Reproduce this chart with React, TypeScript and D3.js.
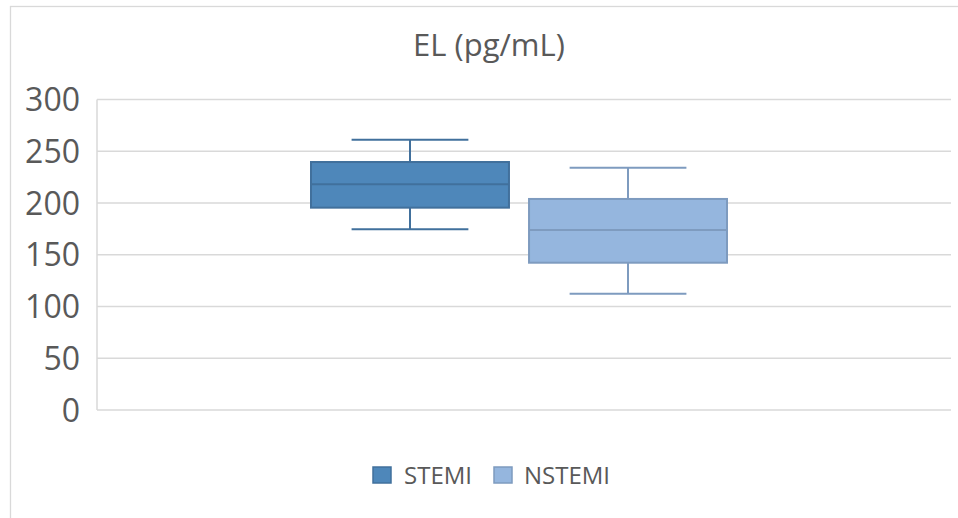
import React from "react";
import * as d3 from "d3";

const title = "EL (pg/mL)";
const seriesNames = ["STEMI", "NSTEMI"];
const minValues = [174.6, 112.4];
const q1Values = [195.5, 142.3];
const medianValues = [218, 173.9];
const q3Values = [239.6, 203.9];
const maxValues = [261.2, 234.1];
const yTicks = [0, 50, 100, 150, 200, 250, 300];
const fills = ["#4E87BA", "#95B6DE"];
const strokes = ["#41709C", "#7E9BBF"];

const W = 958;
const H = 518;
const plotLeft = 97;
const plotRight = 951;
const plotTop = 99.5;
const plotBottom = 410;
const font = "'Open Sans', sans-serif";
const textColor = "#595959";
const gridColor = "#D9D9D9";

export default function App() {
  const y = d3.scaleLinear().domain([0, 300]).range([plotBottom, plotTop]);
  const x = d3
    .scaleBand<string>()
    .domain(seriesNames)
    .range([311, 727])
    .paddingInner(0.092)
    .paddingOuter(0);
  const bw = x.bandwidth();
  const capW = bw * 0.295;

  const legendItems = [
    { name: seriesNames[0], sx: 373, tx: 404 },
    { name: seriesNames[1], sx: 494, tx: 524 },
  ];

  return (
    <svg
      width={W}
      height={H}
      style={{ position: "absolute", left: 0, top: 0, background: "#fff" }}
    >
      <rect x={0} y={0} width={W} height={H} fill="#fff" />
      <rect
        x={10.5}
        y={6.5}
        width={W + 10}
        height={H + 10}
        fill="none"
        stroke={gridColor}
        strokeWidth={1.3}
      />
      <text
        x={489}
        y={56}
        textAnchor="middle"
        fontFamily={font}
        fontSize={31}
        fill={textColor}
      >
        {title}
      </text>
      {yTicks.map((t) => (
        <g key={t}>
          <line
            x1={plotLeft}
            x2={plotRight}
            y1={y(t)}
            y2={y(t)}
            stroke={gridColor}
            strokeWidth={1.5}
          />
          <text
            x={80}
            y={y(t)}
            dy="0.36em"
            textAnchor="end"
            fontFamily={font}
            fontSize={32}
            fill={textColor}
          >
            {t}
          </text>
        </g>
      ))}
      <line
        x1={plotLeft}
        x2={plotLeft}
        y1={y(300)}
        y2={y(0)}
        stroke={gridColor}
        strokeWidth={1.5}
      />
      {seriesNames.map((s, i) => {
        const x0 = x(s)!;
        const cx = x0 + bw / 2;
        return (
          <g key={s}>
            <line x1={cx} x2={cx} y1={y(maxValues[i])} y2={y(q3Values[i])} stroke={strokes[i]} strokeWidth={2} />
            <line x1={cx} x2={cx} y1={y(q1Values[i])} y2={y(minValues[i])} stroke={strokes[i]} strokeWidth={2} />
            <line x1={cx - capW} x2={cx + capW} y1={y(maxValues[i])} y2={y(maxValues[i])} stroke={strokes[i]} strokeWidth={2} />
            <line x1={cx - capW} x2={cx + capW} y1={y(minValues[i])} y2={y(minValues[i])} stroke={strokes[i]} strokeWidth={2} />
            <rect
              x={x0}
              y={y(q3Values[i])}
              width={bw}
              height={y(q1Values[i]) - y(q3Values[i])}
              fill={fills[i]}
              stroke={strokes[i]}
              strokeWidth={2}
            />
            <line x1={x0} x2={x0 + bw} y1={y(medianValues[i])} y2={y(medianValues[i])} stroke={strokes[i]} strokeWidth={2} />
          </g>
        );
      })}
      {legendItems.map((l, i) => (
        <g key={l.name}>
          <rect x={l.sx} y={467} width={18} height={16} fill={fills[i]} stroke={strokes[i]} strokeWidth={1.5} />
          <text
            x={l.tx}
            y={484}
            fontFamily={font}
            fontSize={24}
            fill={textColor}
          >
            {l.name}
          </text>
        </g>
      ))}
    </svg>
  );
}
